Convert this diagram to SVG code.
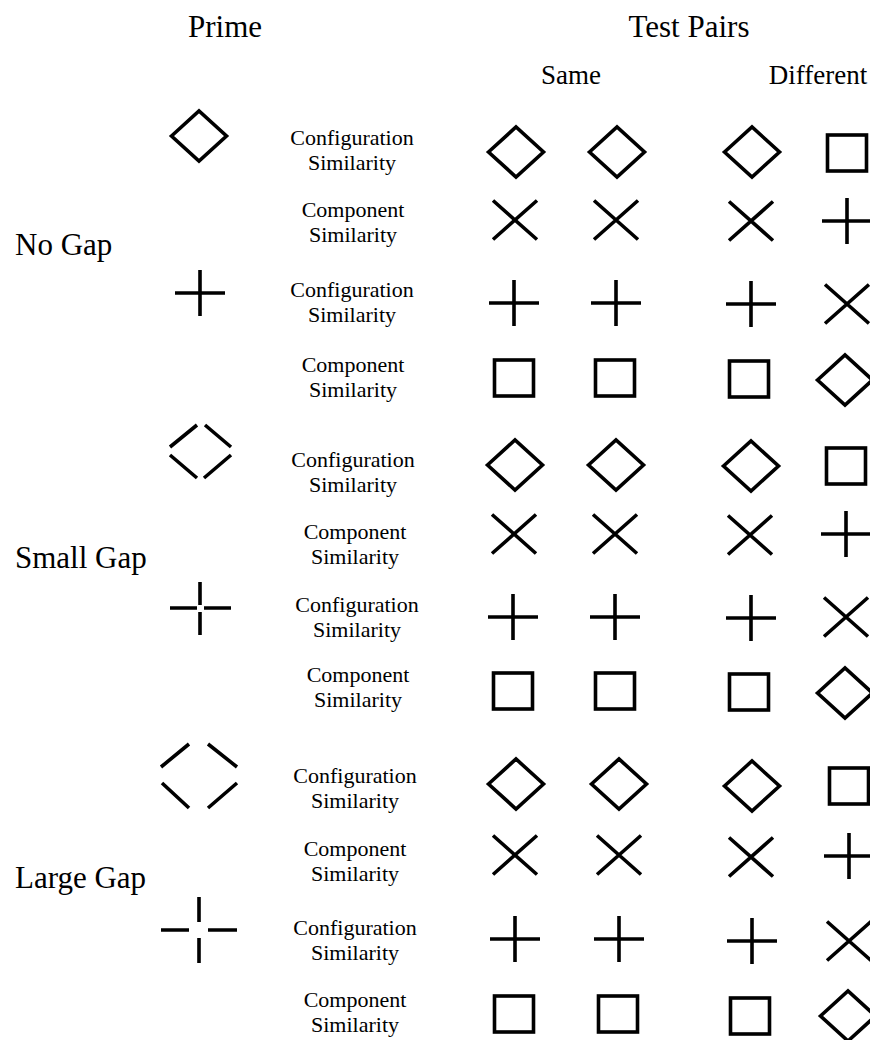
<svg xmlns="http://www.w3.org/2000/svg" width="870" height="1040" viewBox="0 0 870 1040">
<style>
text{font-family:"Liberation Serif","Times New Roman",serif;fill:#000}
.h{font-size:31px;text-anchor:middle}
.sub{font-size:27px;text-anchor:middle}
.gap{font-size:31px}
.lab{font-size:22px;text-anchor:middle}
.s{fill:none;stroke:#000;stroke-width:3.6}
</style>
<defs>
<path id="dia" class="s" d="M-27.5,0 L0,-25 L27.5,0 L0,25 Z"/>
<rect id="sq" class="s" x="-19.5" y="-18" width="39" height="36"/>
<path id="ex" class="s" d="M-22,-19.5 L22,19.5 M-22,19.5 L22,-19.5"/>
<path id="pl" class="s" d="M-25,0 H25 M0,-23 V23"/>
</defs>
<rect width="870" height="1040" fill="#fff"/>
<g id="headers">
<text class="h" x="225" y="37">Prime</text>
<text class="h" x="689" y="37">Test Pairs</text>
<text class="sub" x="571" y="84">Same</text>
<text class="sub" x="818" y="84">Different</text>
</g>
<g id="group-labels">
<text class="gap" x="15" y="255">No Gap</text>
<text class="gap" x="15" y="568">Small Gap</text>
<text class="gap" x="15" y="888">Large Gap</text>
</g>
<g id="primes">
<g id="prime-diamond-none"><use href="#dia" x="199" y="136"/></g>
<g id="prime-plus-none"><use href="#pl" x="200" y="293"/></g>
<g id="prime-diamond-small" class="s">
<path d="M170,447 L197,425 M205,425 L231,447 M170,455 L197,478 M204,478 L231,455"/>
</g>
<g id="prime-plus-small" class="s">
<path d="M200,582 V605 M200,612 V635 M170,608 H197 M204,608 H231"/>
</g>
<g id="prime-diamond-large" class="s">
<path d="M161,767 L189,744 M208,744 L237,767 M162,783 L189,808 M208,808 L237,783"/>
</g>
<g id="prime-plus-large" class="s">
<path d="M199,897 V922 M199,938 V963 M161,930 H189 M208,930 H237"/>
</g>
</g>
<g id="row1">
<text class="lab" x="352" y="145">Configuration</text><text class="lab" x="352" y="170">Similarity</text>
<use href="#dia" x="516" y="152"/><use href="#dia" x="617" y="152"/><use href="#dia" x="752" y="152"/><use href="#sq" x="847" y="153"/>
</g>
<g id="row2">
<text class="lab" x="353" y="217">Component</text><text class="lab" x="353" y="242">Similarity</text>
<use href="#ex" x="515" y="220"/><use href="#ex" x="616" y="220"/><use href="#ex" x="751" y="221"/><use href="#pl" x="847" y="221"/>
</g>
<g id="row3">
<text class="lab" x="352" y="297">Configuration</text><text class="lab" x="352" y="322">Similarity</text>
<use href="#pl" x="514" y="303"/><use href="#pl" x="616" y="303"/><use href="#pl" x="751" y="304"/><use href="#ex" x="847" y="304"/>
</g>
<g id="row4">
<text class="lab" x="353" y="372">Component</text><text class="lab" x="353" y="397">Similarity</text>
<use href="#sq" x="514" y="378"/><use href="#sq" x="615" y="378"/><use href="#sq" x="749" y="379"/><use href="#dia" x="845" y="380"/>
</g>
<g id="row5">
<text class="lab" x="353" y="467">Configuration</text><text class="lab" x="353" y="492">Similarity</text>
<use href="#dia" x="515" y="465"/><use href="#dia" x="616" y="465"/><use href="#dia" x="751" y="466"/><use href="#sq" x="846" y="466"/>
</g>
<g id="row6">
<text class="lab" x="355" y="539">Component</text><text class="lab" x="355" y="564">Similarity</text>
<use href="#ex" x="514" y="534"/><use href="#ex" x="615" y="534"/><use href="#ex" x="750" y="535"/><use href="#pl" x="846" y="534"/>
</g>
<g id="row7">
<text class="lab" x="357" y="612">Configuration</text><text class="lab" x="357" y="637">Similarity</text>
<use href="#pl" x="513" y="617"/><use href="#pl" x="615" y="617"/><use href="#pl" x="751" y="618"/><use href="#ex" x="846" y="617"/>
</g>
<g id="row8">
<text class="lab" x="358" y="682">Component</text><text class="lab" x="358" y="707">Similarity</text>
<use href="#sq" x="513" y="691"/><use href="#sq" x="615" y="691"/><use href="#sq" x="749" y="692"/><use href="#dia" x="845" y="693"/>
</g>
<g id="row9">
<text class="lab" x="355" y="783">Configuration</text><text class="lab" x="355" y="808">Similarity</text>
<use href="#dia" x="516" y="784"/><use href="#dia" x="619" y="784"/><use href="#dia" x="752" y="786"/><use href="#sq" x="849" y="786"/>
</g>
<g id="row10">
<text class="lab" x="355" y="856">Component</text><text class="lab" x="355" y="881">Similarity</text>
<use href="#ex" x="515" y="855"/><use href="#ex" x="619" y="855"/><use href="#ex" x="751" y="857"/><use href="#pl" x="849" y="856"/>
</g>
<g id="row11">
<text class="lab" x="355" y="935">Configuration</text><text class="lab" x="355" y="960">Similarity</text>
<use href="#pl" x="515" y="939"/><use href="#pl" x="619" y="939"/><use href="#pl" x="752" y="941"/><use href="#ex" x="849" y="941"/>
</g>
<g id="row12">
<text class="lab" x="355" y="1007">Component</text><text class="lab" x="355" y="1032">Similarity</text>
<use href="#sq" x="514" y="1014"/><use href="#sq" x="618" y="1014"/><use href="#sq" x="750" y="1016"/><use href="#dia" x="848" y="1016"/>
</g>
</svg>
